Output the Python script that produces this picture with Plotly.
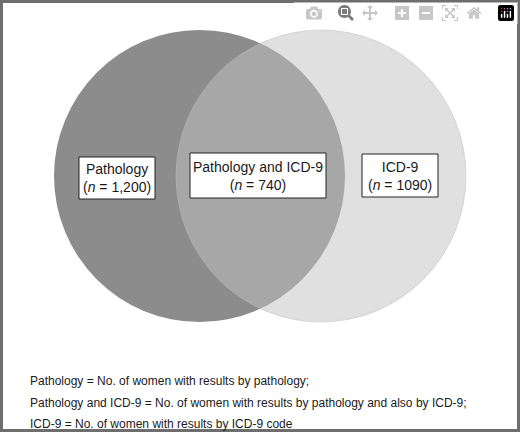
import plotly.graph_objects as go

labels = ["Pathology", "Pathology and ICD-9", "ICD-9"]
counts = ["1,200", "740", "1090"]
notes = [
    "Pathology = No. of women with results by pathology;",
    "Pathology and ICD-9 = No. of women with results by pathology and also by ICD-9;",
    "ICD-9 = No. of women with results by ICD-9 code",
]

fig = go.Figure()
font = dict(family="Liberation Sans, Arial", size=14, color="#1a1a1a")

# frame
fig.add_shape(type="rect", x0=1.5, y0=1.5, x1=518.5, y1=430.5,
              line=dict(color="#6e6e6e", width=3), fillcolor="white", layer="below")
# circles: dark left, translucent light right on top
fig.add_shape(type="circle", x0=54, y0=30, x1=345, y1=322,
              fillcolor="rgb(140,140,140)", line=dict(width=0))
fig.add_shape(type="circle", x0=176, y0=30, x1=466, y1=322,
              fillcolor="rgba(195,195,195,0.51)", line=dict(color="#bdbdbd", width=0.5))

boxes = [(79, 157, 155, 199), (190, 153, 326, 198), (362, 154, 438, 197)]
for (x0, y0, x1, y1), lab, n in zip(boxes, labels, counts):
    fig.add_shape(type="rect", x0=x0, y0=y0, x1=x1, y1=y1,
                  fillcolor="white", line=dict(color="#222", width=1))
    fig.add_annotation(x=(x0 + x1) / 2, y=(y0 + y1) / 2,
                       text=f"{lab}<br>(<i>n</i> = {n})", showarrow=False,
                       font=font, align="center")

for i, t in enumerate(notes):
    fig.add_annotation(x=28, y=381 + i * 21.5, text=t, showarrow=False,
                       xanchor="left", font=dict(family="Liberation Sans, Arial", size=12, color="#1a1a1a"))

fig.update_xaxes(range=[0, 520], visible=False)
fig.update_yaxes(range=[432, 0], visible=False)
fig.update_layout(width=520, height=432, margin=dict(l=0, r=0, t=0, b=0),
                  plot_bgcolor="white", paper_bgcolor="white", showlegend=False)
fig.write_html("out.html", post_script="document.body.style.margin='0';document.body.style.overflow='hidden';")
